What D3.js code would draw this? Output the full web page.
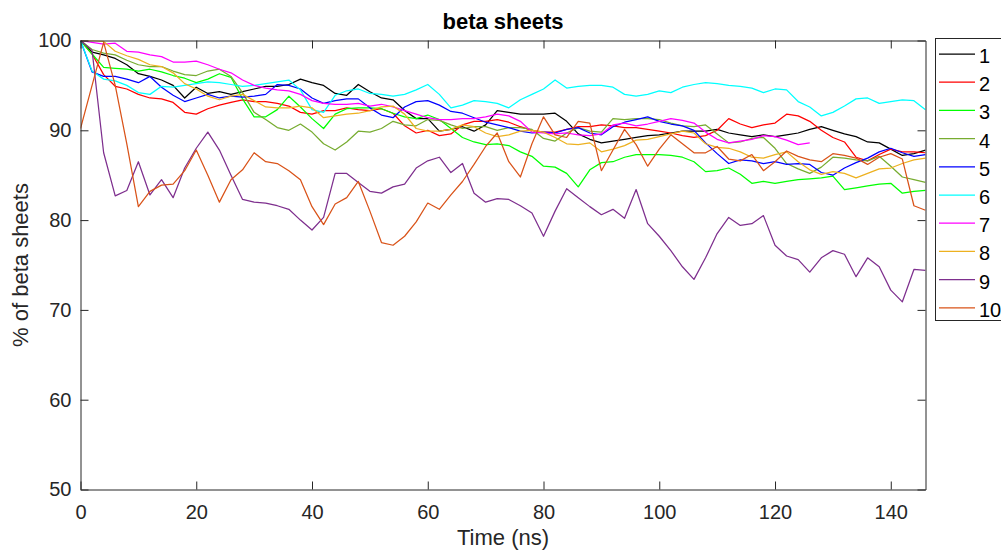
<!DOCTYPE html>
<html>
<head>
<meta charset="utf-8">
<script src="https://cdn.jsdelivr.net/npm/d3@7"></script>
<style>
  html, body { margin: 0; padding: 0; background: #fff; }
  svg { display: block; font-family: "Liberation Sans", Arial, Helvetica, sans-serif; }
</style>
</head>
<body>
<script>
// ---- data (percent of beta sheets vs time in ns, sampled every 2 ns) ----
const times = [0,2,4,6,8,10,12,14,16,18,20,22,24,26,28,30,32,34,36,38,40,42,44,46,48,50,52,54,56,58,60,62,64,66,68,70,72,74,76,78,80,82,84,86,88,90,92,94,96,98,100,102,104,106,108,110,112,114,116,118,120,122,124,126,128,130,132,134,136,138,140,142,144,146];

const run1 = [100,98.7,98.4,98.0,97.3,96.3,96.0,95.6,95.0,93.6,
  94.8,94.1,94.3,94.0,94.3,94.6,94.9,94.9,95.1,95.7,
  95.3,95.0,94.1,93.9,95.1,94.3,93.6,93.4,92.2,91.3,
  91.3,89.9,90.1,90.4,89.9,90.6,92.2,92.0,91.8,91.8,
  91.8,91.9,91.0,89.6,89.0,88.6,88.8,89.0,89.2,89.4,
  89.5,89.7,89.9,89.9,89.9,90.1,89.7,89.5,89.3,89.5,
  89.3,89.5,89.7,90.1,90.4,90.0,89.6,89.3,88.7,88.6,
  87.9,87.2,87.4,87.8];
const run2 = [100,98.5,96.2,94.9,94.6,94.0,93.6,93.5,93.1,92.0,
  91.8,92.4,92.8,93.1,93.4,93.2,93.2,93.0,92.7,92.0,
  91.8,92.2,92.2,92.5,92.3,92.2,92.4,91.9,90.5,89.7,
  90.0,89.4,89.6,90.6,91.0,91.0,91.2,90.9,90.4,90.0,
  89.8,89.8,90.1,90.4,90.4,90.6,90.5,90.3,90.3,90.1,
  89.9,89.7,89.4,89.2,89.4,90.0,91.3,90.7,90.3,90.6,
  90.8,91.8,91.6,91.0,90.0,89.2,88.7,87.0,86.6,87.3,
  87.9,87.6,87.6,87.5];
const run3 = [100,98.5,97.0,96.9,96.8,96.6,96.8,96.5,96.1,95.8,
  95.3,95.7,96.3,95.9,93.5,91.5,91.5,92.3,93.8,92.6,
  91.3,90.2,91.8,92.4,92.5,92.5,92.4,91.9,91.5,91.3,
  91.7,91.2,90.2,89.2,88.7,88.4,88.5,88.3,87.6,87.1,
  86.0,85.9,85.2,83.7,85.6,86.4,86.5,87.0,87.3,87.3,
  87.3,87.2,87.0,86.5,85.4,85.5,85.8,85.1,84.1,84.3,
  84.1,84.3,84.5,84.6,84.7,84.9,83.4,83.6,83.8,84.0,
  84.1,83.0,83.2,83.3];
const run4 = [100,99.0,98.6,98.4,97.8,97.3,97.1,97.1,96.6,96.2,
  96.1,96.6,96.8,96.0,94.2,92.0,91.2,90.3,90.0,90.7,
  89.8,88.5,87.8,88.7,89.9,89.8,90.2,91.0,90.6,90.5,
  91.2,91.1,90.6,90.2,90.4,90.4,90.0,90.3,90.3,90.1,
  89.1,88.8,89.7,90.3,89.9,89.8,91.3,91.2,91.3,91.3,
  91.2,90.8,90.5,90.4,90.6,89.6,88.6,88.7,89.1,89.2,
  88.0,86.3,85.7,85.2,85.9,87.0,86.9,86.7,86.6,87.1,
  86.0,84.8,84.5,84.2];
const run5 = [100,96.5,96.0,96.0,95.7,95.3,96.0,94.8,93.9,93.2,
  93.6,94.0,93.6,93.8,93.7,93.8,94.0,95.1,95.0,94.6,
  93.6,93.0,93.3,93.5,93.5,92.5,91.7,91.4,92.6,93.2,
  93.3,92.8,92.1,91.9,91.4,90.9,90.6,90.3,89.9,89.7,
  89.8,89.7,90.1,90.3,89.7,89.5,90.4,90.9,91.2,91.5,
  91.0,90.7,90.5,90.0,88.6,87.4,86.3,86.7,86.6,86.3,
  86.5,86.2,86.3,86.2,85.3,85.0,85.8,86.4,86.9,87.6,
  88.0,87.5,87.1,87.3];
const run6 = [100,96.6,95.7,95.5,95.0,94.2,94.0,94.9,94.8,95.0,
  95.2,95.4,95.3,95.1,94.9,95.0,95.2,95.4,95.6,94.5,
  92.3,92.0,93.9,94.4,94.6,94.1,94.0,93.8,94.0,94.5,
  95.1,94.0,92.5,92.8,93.3,93.2,93.0,92.5,93.4,94.0,
  94.6,95.6,94.7,94.9,95.0,95.0,94.8,94.0,93.8,94.0,
  94.4,94.2,94.8,95.1,95.3,95.2,95.0,94.9,94.7,94.2,
  94.6,94.5,93.2,92.6,91.6,92.0,92.7,93.5,93.6,93.0,
  93.2,93.4,93.3,92.3];
const run7 = [100,99.8,99.6,99.7,98.8,98.7,98.4,98.2,97.6,97.6,
  97.7,97.3,96.8,96.4,95.6,95.0,94.7,94.5,94.4,94.0,
  93.3,93.0,92.9,92.9,93.0,92.7,92.9,92.6,92.2,91.8,
  91.4,91.2,91.2,91.3,91.3,91.5,91.8,91.6,91.0,89.8,
  89.7,89.6,89.7,89.5,89.4,89.6,90.6,90.8,90.5,90.7,
  91.0,91.3,91.1,90.8,89.8,89.0,88.6,88.8,89.0,89.4,
  89.3,88.9,88.4,88.6];
const run8 = [100,100,99.9,98.8,98.3,97.9,97.3,97.1,96.4,95.2,
  94.6,93.8,93.4,93.8,94.0,93.3,92.6,92.5,92.5,92.7,
  92.5,91.4,91.6,91.8,91.9,92.2,92.6,92.7,91.8,90.2,
  89.9,89.9,90.1,90.6,90.4,89.7,89.3,89.5,89.9,90.0,
  89.8,89.2,88.5,88.4,88.6,87.6,87.9,88.3,88.9,89.0,
  89.3,89.6,89.9,89.7,88.5,88.1,88.0,87.6,87.0,86.9,
  87.3,87.6,86.5,85.6,85.1,85.4,85.2,84.7,85.2,85.7,
  85.8,86.3,86.7,86.9];
const run9 = [100,98.9,87.5,82.7,83.3,86.5,82.8,84.5,82.5,85.8,
  88.0,89.8,87.8,85.0,82.3,82.0,81.9,81.6,81.2,80.0,
  78.9,80.3,85.2,85.2,84.2,83.2,83.0,83.7,84.0,85.8,
  86.6,87.0,85.3,86.3,83.0,82.0,82.4,82.3,81.6,80.8,
  78.2,81.0,83.5,82.5,81.5,80.6,81.2,80.2,83.4,79.6,
  78.2,76.6,74.8,73.4,75.8,78.5,80.3,79.4,79.6,80.5,
  77.2,76.0,75.6,74.2,75.8,76.6,76.2,73.7,75.8,74.8,
  72.2,70.9,74.5,74.4];
const run10 = [90.2,95.0,99.8,95.0,88.5,81.5,83.2,83.9,84.0,85.5,
  87.8,85.0,82.0,84.5,85.6,87.5,86.5,86.3,85.5,84.5,
  81.5,79.5,81.8,82.5,84.3,81.0,77.5,77.2,78.2,79.8,
  81.9,81.2,82.8,84.3,86.2,88.2,89.7,86.5,84.8,88.5,
  91.5,89.5,89.2,91.0,90.8,85.5,87.8,90.1,88.4,86.0,
  87.9,89.5,88.5,87.5,87.5,88.2,86.8,86.6,87.3,85.5,
  86.5,87.7,87.1,86.7,86.5,87.4,87.2,86.9,86.2,87.0,
  87.4,86.8,81.6,81.1];

const seriesNames = ["1","2","3","4","5","6","7","8","9","10"];
const seriesValues = [run1,run2,run3,run4,run5,run6,run7,run8,run9,run10];
const seriesColors = ["#000000","#FF0000","#00FF00","#77AC30","#0000FF","#00FFFF","#FF00FF","#EDB120","#7E2F8E","#D95319"];

const xTicks = [0,20,40,60,80,100,120,140];
const yTicks = [50,60,70,80,90,100];

const titleText = "beta sheets";
const xLabelText = "Time (ns)";
const yLabelText = "% of beta sheets";

// ---- layout ----
const W = 1001, H = 551;
const L = 80.5, R = 925.5, T = 40.5, B = 489.5;
const axisColor = "#262626";

const svg = d3.select("body").append("svg").attr("width", W).attr("height", H);

const x = d3.scaleLinear().domain([0, 146]).range([L, R]);
const y = d3.scaleLinear().domain([50, 100]).range([B, T]);

svg.append("defs").append("clipPath").attr("id", "plotclip")
  .append("rect").attr("x", L).attr("y", T).attr("width", R - L).attr("height", B - T);

// series lines
const line = d3.line().x(d => x(d[0])).y(d => y(d[1]));
const gLines = svg.append("g").attr("clip-path", "url(#plotclip)");
seriesValues.forEach((vals, i) => {
  const pts = vals.map((v, k) => [times[k], v]);
  gLines.append("path")
    .datum(pts)
    .attr("fill", "none")
    .attr("stroke", seriesColors[i])
    .attr("stroke-width", 1.25)
    .attr("stroke-linejoin", "round")
    .attr("d", line);
});

// axes
function styleAxis(g) {
  g.selectAll(".domain").attr("stroke", axisColor).attr("stroke-width", 1);
  g.selectAll(".tick line").attr("stroke", axisColor).attr("stroke-width", 1);
  g.selectAll(".tick text").attr("fill", axisColor).style("font-size", "20px")
    .style("font-family", "'Liberation Sans', Arial, sans-serif");
}
const gx = svg.append("g").attr("transform", `translate(0,${B})`)
  .call(d3.axisBottom(x).tickValues(xTicks).tickFormat(d3.format("d")).tickSize(-8).tickSizeOuter(0).tickPadding(15));
styleAxis(gx);
const gy = svg.append("g").attr("transform", `translate(${L},0)`)
  .call(d3.axisLeft(y).tickValues(yTicks).tickFormat(d3.format("d")).tickSize(-8).tickSizeOuter(0).tickPadding(9));
styleAxis(gy);
const gxt = svg.append("g").attr("transform", `translate(0,${T})`)
  .call(d3.axisTop(x).tickValues(xTicks).tickFormat("").tickSize(-8).tickSizeOuter(0));
styleAxis(gxt);
const gyr = svg.append("g").attr("transform", `translate(${R},0)`)
  .call(d3.axisRight(y).tickValues(yTicks).tickFormat("").tickSize(-8).tickSizeOuter(0));
styleAxis(gyr);

// title & labels
svg.append("text").attr("x", (L + R) / 2).attr("y", 29)
  .attr("text-anchor", "middle").attr("fill", "#000")
  .style("font-size", "22px").style("font-weight", "bold").text(titleText);
svg.append("text").attr("x", (L + R) / 2).attr("y", 545)
  .attr("text-anchor", "middle").attr("fill", axisColor)
  .style("font-size", "22px").text(xLabelText);
svg.append("text").attr("transform", `translate(28,${(T + B) / 2}) rotate(-90)`)
  .attr("text-anchor", "middle").attr("fill", axisColor)
  .style("font-size", "22px").text(yLabelText);

// legend
const lg = svg.append("g");
lg.append("rect").attr("x", 935.5).attr("y", 38.5).attr("width", 80).attr("height", 282)
  .attr("fill", "#fff").attr("stroke", axisColor).attr("stroke-width", 1);
seriesNames.forEach((name, i) => {
  const cy = 54 + i * 28.2;
  lg.append("line").attr("x1", 939).attr("x2", 975).attr("y1", cy).attr("y2", cy)
    .attr("stroke", seriesColors[i]).attr("stroke-width", 1.25);
  lg.append("text").attr("x", 979).attr("y", cy + 9).attr("fill", "#000")
    .style("font-size", "20px").text(name);
});
</script>
</body>
</html>
